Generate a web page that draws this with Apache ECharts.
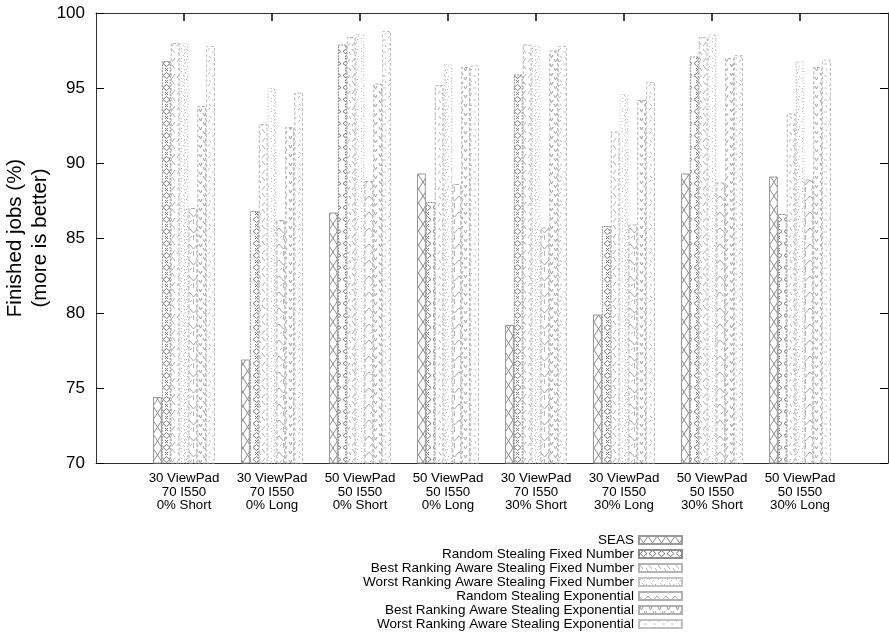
<!DOCTYPE html>
<html>
<head>
<meta charset="utf-8">
<script src="https://cdn.jsdelivr.net/npm/echarts@6/dist/echarts.min.js"></script>
<style>
  html, body { margin: 0; padding: 0; background: #fff; }
  #chart { width: 889px; height: 634px; }
</style>
</head>
<body>
<div id="chart"></div>
<script>
// Scenario labels (one group of bars per scenario)
const categories = [
  '30 ViewPad\n70 I550\n0% Short',
  '30 ViewPad\n70 I550\n0% Long',
  '50 ViewPad\n50 I550\n0% Short',
  '50 ViewPad\n50 I550\n0% Long',
  '30 ViewPad\n70 I550\n30% Short',
  '30 ViewPad\n70 I550\n30% Long',
  '50 ViewPad\n50 I550\n30% Short',
  '50 ViewPad\n50 I550\n30% Long'
];

const seriesNames = [
  'SEAS',
  'Random Stealing Fixed Number',
  'Best Ranking Aware Stealing Fixed Number',
  'Worst Ranking Aware Stealing Fixed Number',
  'Random Stealing Exponential',
  'Best Ranking Aware Stealing Exponential',
  'Worst Ranking Aware Stealing Exponential'
];

// Finished jobs (%) per scenario
const seas        = [74.4, 76.9, 86.7, 89.3, 79.2, 79.9, 89.3, 89.1];
const randomFixed = [96.8, 86.8, 97.9, 87.4, 95.9, 85.8, 97.1, 86.6];
const bestFixed   = [98.0, 92.6, 98.4, 95.2, 97.9, 92.1, 98.4, 93.3];
const worstFixed  = [98.0, 95.0, 98.6, 96.6, 97.8, 94.6, 98.6, 96.8];
const randomExp   = [87.0, 86.2, 88.8, 88.6, 85.7, 85.9, 88.7, 88.9];
const bestExp     = [93.8, 92.4, 95.3, 96.4, 97.5, 94.2, 97.0, 96.4];
const worstExp    = [97.8, 94.7, 98.8, 96.5, 97.8, 95.4, 97.2, 96.9];

const yTicks = { min: 70, max: 100, interval: 5 };

const allValues = [seas, randomFixed, bestFixed, worstFixed, randomExp, bestExp, worstExp];

// ---- hatch-like fill tiles -------------------------------------------------
function tile(w, h, draw) {
  const c = document.createElement('canvas');
  c.width = w; c.height = h;
  const g = c.getContext('2d');
  g.fillStyle = '#fff';
  g.fillRect(0, 0, w, h);
  g.lineWidth = 1;
  g.lineCap = 'butt';
  draw(g);
  return { image: c, repeat: 'repeat' };
}
function seg(g, pts, color, dash) {
  g.strokeStyle = color;
  g.setLineDash(dash || []);
  g.beginPath();
  g.moveTo(pts[0][0], pts[0][1]);
  for (let i = 1; i < pts.length; i++) g.lineTo(pts[i][0], pts[i][1]);
  g.stroke();
}

const fills = [
  // crossing diagonals
  tile(9, 14, g => {
    seg(g, [[0, 0], [9, 14]], '#8a8a8a');
    seg(g, [[9, 0], [0, 14]], '#8a8a8a');
  }),
  // diamonds alternating with small crosses
  tile(9, 12, g => {
    seg(g, [[4.5, 0.5], [8, 3.5], [4.5, 6.5], [1, 3.5], [4.5, 0.5]], '#7a7a7a');
    seg(g, [[3, 8], [6, 11]], '#7a7a7a');
    seg(g, [[6, 8], [3, 11]], '#7a7a7a');
  }),
  // sparse dashed diagonals
  tile(9, 16, g => {
    seg(g, [[1, 1], [4, 5]], '#b0b0b0');
    seg(g, [[7, 4], [9, 7]], '#b0b0b0');
    seg(g, [[4, 10], [1, 14]], '#b0b0b0');
    seg(g, [[8, 11], [6, 14]], '#b8b8b8');
  }),
  // faint dots
  tile(9, 10, g => {
    g.fillStyle = '#bdbdbd';
    [[1, 1], [5, 2], [3, 5], [7, 6], [1, 8], [6, 9]].forEach(p => g.fillRect(p[0], p[1], 1, 1));
    seg(g, [[4.5, 0], [4.5, 10]], '#d0d0d0', [1, 2]);
  }),
  // chevrons with a centre stroke
  tile(9, 16, g => {
    seg(g, [[0, 4], [4.5, 9], [9, 4]], '#a6a6a6');
    seg(g, [[4.5, 11], [4.5, 16]], '#b8b8b8');
    seg(g, [[1, 14], [3, 12]], '#b8b8b8');
  }),
  // small v ticks
  tile(9, 9, g => {
    seg(g, [[1, 1], [2.5, 4], [4, 1]], '#9a9a9a');
    seg(g, [[5, 5], [6.5, 8], [8, 5]], '#a4a4a4');
  }),
  // faint dashes
  tile(9, 12, g => {
    seg(g, [[1, 2], [3, 0]], '#bcbcbc');
    seg(g, [[5, 4], [8, 4]], '#c4c4c4');
    seg(g, [[2, 8], [4, 10]], '#bcbcbc');
    seg(g, [[7, 9], [8, 11]], '#c4c4c4');
  })
];

const borders = [
  { color: '#999', type: 'solid' },
  { color: '#8c8c8c', type: [2, 1] },
  { color: '#b4b4b4', type: [3, 2] },
  { color: '#c4c4c4', type: [1, 2] },
  { color: '#b0b0b0', type: [4, 2] },
  { color: '#b0b0b0', type: [3, 2] },
  { color: '#c0c0c0', type: [3, 2] }
];

// Category axis padded with an empty slot on each side, boundaryGap off,
// so the groups sit one slot in from the frame on both sides.
const axisCats = [''].concat(categories, ['']);
const pad = v => ['-'].concat(v, ['-']);

const chart = echarts.init(document.getElementById('chart'), null, { renderer: 'canvas' });

const fontFam = '"Liberation Sans", Arial, Helvetica, sans-serif';
const innerTick = (idx) => idx > 0 && idx < axisCats.length - 1;

chart.setOption({
  animation: false,
  backgroundColor: '#fff',
  textStyle: { fontFamily: fontFam },
  grid: { left: 96, right: 1, top: 13, bottom: 171, containLabel: false, outerBoundsMode: 'none' },
  legend: {
    orient: 'vertical',
    align: 'right',
    right: 206,
    top: 533,
    height: 100,
    itemWidth: 43,
    itemHeight: 8,
    itemGap: 0,
    padding: 0,
    icon: 'rect',
    data: seriesNames,
    textStyle: { fontFamily: fontFam, fontSize: 13.5, color: '#000', lineHeight: 13.83 },
    selectedMode: false
  },
  xAxis: [
    {
      type: 'category',
      position: 'bottom',
      boundaryGap: false,
      data: axisCats,
      axisLine: { show: true, lineStyle: { color: '#333', width: 1 } },
      axisTick: { show: false },
      axisLabel: {
        interval: 0,
        margin: 9,
        color: '#000',
        fontFamily: fontFam,
        fontSize: 13.3,
        lineHeight: 13.5
      },
      splitLine: { show: false }
    },
    {
      type: 'category',
      position: 'top',
      boundaryGap: false,
      data: axisCats,
      axisLine: { show: true, lineStyle: { color: '#333', width: 1 } },
      axisTick: { show: true, inside: true, length: 8, interval: innerTick,
                  lineStyle: { color: '#000', width: 1.5 } },
      axisLabel: { show: false },
      splitLine: { show: false }
    }
  ],
  yAxis: [
    {
      type: 'value',
      position: 'left',
      min: yTicks.min, max: yTicks.max, interval: yTicks.interval,
      name: 'Finished jobs (%)\n(more is better)',
      nameLocation: 'middle',
      nameRotate: 90,
      nameGap: 43,
      nameMoveOverlap: false,
      nameTextStyle: { fontFamily: fontFam, fontSize: 20.5, color: '#000', lineHeight: 25 },
      axisLine: { show: true, lineStyle: { color: '#333', width: 1 } },
      axisTick: { show: true, inside: true, length: 8, lineStyle: { color: '#000', width: 1 } },
      axisLabel: { color: '#000', fontFamily: fontFam, fontSize: 17, margin: 11 },
      splitLine: { show: false }
    },
    {
      type: 'value',
      position: 'right',
      min: yTicks.min, max: yTicks.max, interval: yTicks.interval,
      axisLine: { show: true, lineStyle: { color: '#333', width: 1 } },
      axisTick: { show: true, inside: true, length: 8, lineStyle: { color: '#000', width: 1 } },
      axisLabel: { show: false },
      splitLine: { show: false }
    }
  ],
  series: seriesNames.map((name, i) => ({
    name: name,
    type: 'bar',
    xAxisIndex: 0,
    yAxisIndex: 0,
    barWidth: 8.86,
    barGap: '0%',
    data: pad(allValues[i]),
    itemStyle: {
      color: fills[i],
      borderColor: borders[i].color,
      borderType: borders[i].type,
      borderWidth: 1
    },
    emphasis: { disabled: true }
  }))
});
</script>
</body>
</html>
